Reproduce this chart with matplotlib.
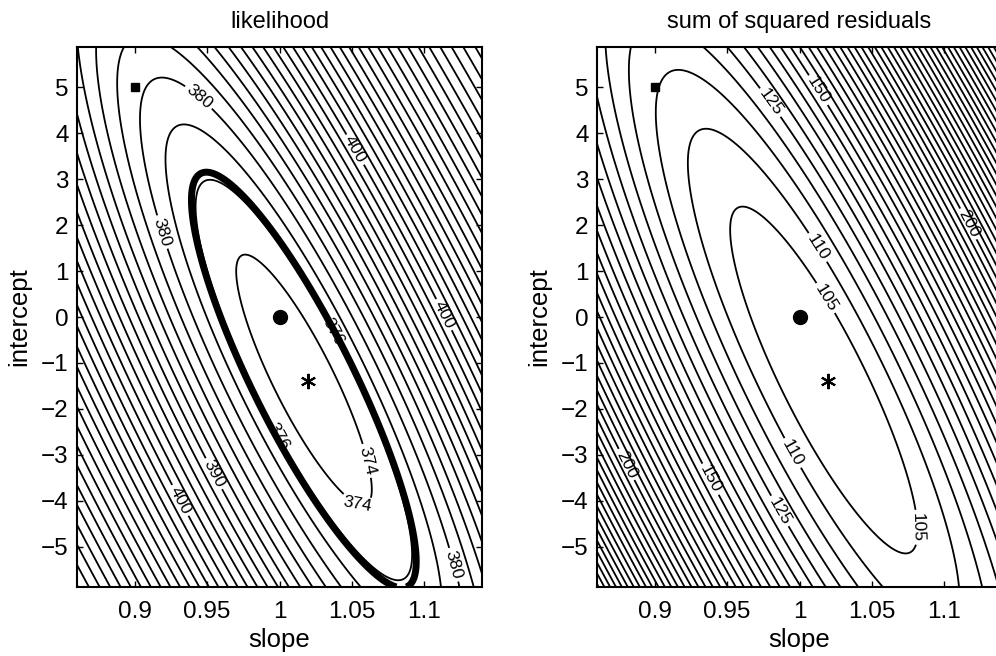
import numpy as np
import matplotlib.pyplot as plt

plt.rcParams['font.family'] = ['Liberation Sans', 'DejaVu Sans']

# axes ranges and ticks
slope_lim = [0.86, 1.14]
intercept_lim = [-5.87, 5.87]
slope_ticks = [0.9, 0.95, 1, 1.05, 1.1]
slope_ticklabels = ['0.9', '0.95', '1', '1.05', '1.1']
intercept_ticks = [-5, -4, -3, -2, -1, 0, 1, 2, 3, 4, 5]

# error surface
best_fit = [1.017, -1.37]   # slope, intercept at the minimum
ssr_min = 100.45
across = 4448.0             # curvature across the valley
along = 0.32                # curvature along the valley
tilt = 0.01495              # d(slope)/d(intercept) of the valley
skew = 1.08
soften = 9.8                # flattening on the steep (upper right) side
lik_min = 372.67
lik_scale = 56.8

ssr_levels = np.arange(105, 401, 5)
ssr_labels = [105, 110, 125, 150, 200]
ssr_label_pos = [(1.024, 5.15), (0.989, 4.87), (1.017, 1.6), (1.019, 0.43),
                 (1.131, 2.26), (0.877, -3.26), (0.934, -3.6), (0.984, -4.26),
                 (0.995, -2.96), (1.083, -4.57)]

lik_levels = np.arange(374, 452, 2)
lik_bold = [376.25]
lik_labels = [374, 376, 380, 390, 400]
lik_label_pos = [(0.957, 5.26), (1.076, 4.07), (0.908, 1.74), (1.043, -0.22),
                 (0.995, -2.67), (1.106, -0.07), (1.064, -3.1), (1.053, -4.15),
                 (0.943, -3.6), (0.915, -4.26), (1.133, -5.28)]

start_pt = [0.9, 5.0]
true_pt = [1.0, 0.0]
est_pt = [1.02, -1.4]

# surfaces
b = np.linspace(slope_lim[0], slope_lim[1], 240)
a = np.linspace(intercept_lim[0], intercept_lim[1], 240)
B_, A_ = np.meshgrid(b, a)
db = B_ - best_fit[0]
da = A_ - best_fit[1]
u = db + tilt * da
up = np.clip(u, 0, None)
ssr = ssr_min + across * u**2 * (1 + skew*u) / (1 + soften*up**2) + along * da**2
lik = lik_min + lik_scale * np.log(ssr / ssr_min)


def draw_contours(ax, z, levels, labels, label_pos):
    plain = [l for l in levels if l not in labels]
    ax.contour(B_, A_, z, levels=plain, colors='k', linewidths=1.3)
    cs = ax.contour(B_, A_, z, levels=labels, colors='k', linewidths=1.3)
    cs.clabel(manual=label_pos, inline=True, fontsize=12.5, fmt='%g',
              inline_spacing=3)


fig = plt.figure(figsize=(9.96, 6.56), dpi=100)
ax1 = fig.add_axes([77/996, 69/656, 405/996, 540/656])
ax2 = fig.add_axes([597/996, 69/656, 405/996, 540/656])

ax1.contour(B_, A_, lik, levels=lik_bold, colors='k', linewidths=5)
draw_contours(ax1, lik, lik_levels, lik_labels, lik_label_pos)
draw_contours(ax2, ssr, ssr_levels, ssr_labels, ssr_label_pos)

for ax, ttl in [(ax1, 'likelihood'), (ax2, 'sum of squared residuals')]:
    ax.plot(*start_pt, 'ks', markersize=6)
    ax.plot(*true_pt, 'ko', markersize=10)
    ax.plot(*est_pt, 'k', marker=(6, 2, 0), markersize=11, mew=1.5, linestyle='none')
    ax.set_xlim(slope_lim)
    ax.set_ylim(intercept_lim)
    ax.set_xticks(slope_ticks)
    ax.set_xticklabels(slope_ticklabels)
    ax.set_yticks(intercept_ticks)
    ax.tick_params(direction='in', top=True, right=True, length=4, width=1,
                   labelsize=17.5, pad=6)
    ax.tick_params(axis='x', pad=10)
    for sp in ax.spines.values():
        sp.set_linewidth(1.5)
    ax.set_title(ttl, fontsize=17, pad=14)
    ax.set_xlabel('slope', fontsize=18.5, labelpad=4)
    ax.set_ylabel('intercept', fontsize=18.5, labelpad=7)

fig.savefig('out.png', dpi=100)
